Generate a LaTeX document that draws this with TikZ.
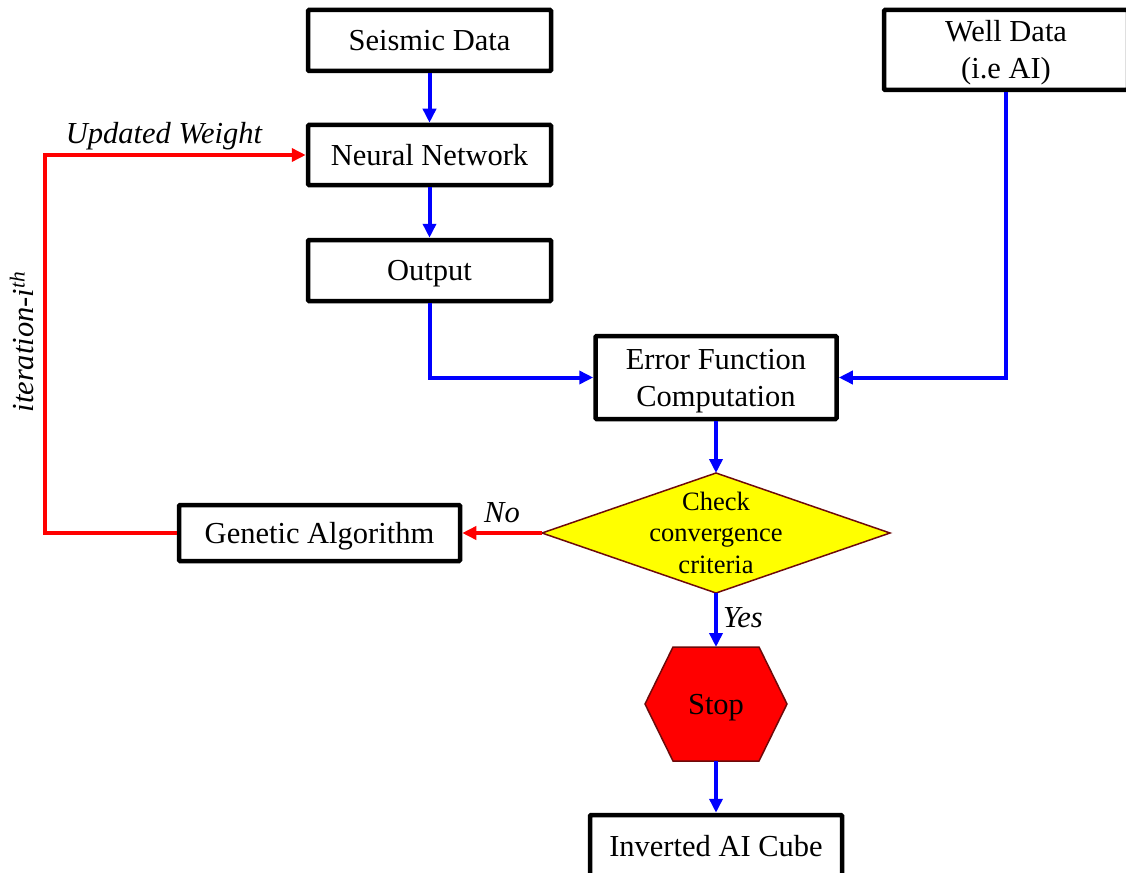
\documentclass[tikz,border=0pt]{standalone}
\usepackage{fontspec}
\setmainfont{Liberation Serif}
\usetikzlibrary{arrows.meta}
\definecolor{bl}{RGB}{0,0,255}
\definecolor{rd}{RGB}{255,0,0}
\definecolor{yl}{RGB}{255,255,0}
\definecolor{mar}{RGB}{110,10,10}
\newcommand\pstrut{\rule[-6.6pt]{0pt}{33.8pt}}
\newcommand\dstrut{\rule[-5.7pt]{0pt}{29.3pt}}
\begin{document}
\begin{tikzpicture}[x=1pt,y=-1pt,
  box/.style={draw=black,line width=4.5pt,rounded corners=1pt,inner sep=0pt,align=center,
    font=\fontsize{30.5}{37}\selectfont},
  ghost/.style={inner sep=0pt,align=center,outer sep=0pt},
  bluearrow/.style={draw=bl,line width=4pt,-{Triangle[length=14pt,width=13pt]}},
  redarrow/.style={draw=rd,line width=4pt,-{Triangle[length=14pt,width=13pt]}},
  lbl/.style={font=\fontsize{30.5}{37}\selectfont\itshape,inner sep=0pt}]
\useasboundingbox (0,0) rectangle (1126,872);
\fill[white] (0,0) rectangle (1126,872);

% boxes
\node[box,minimum width=243pt,minimum height=61pt] (sd) at (429.5,40.5) {\pstrut Seismic Data};
\node[box,minimum width=243pt,minimum height=60pt] (nn) at (429.5,155) {\pstrut Neural Network};
\node[box,minimum width=243pt,minimum height=61pt] (out) at (429.5,270.5) {\pstrut Output};
\node[box,minimum width=244pt,minimum height=80pt] (well) at (1006,50) {\pstrut Well Data\\\pstrut(i.e AI)};
\node[box,minimum width=241pt,minimum height=83pt] (err) at (716,377.5) {\pstrut Error Function\\\pstrut Computation};
\node[box,minimum width=281pt,minimum height=56pt] (ga) at (319.5,533) {\pstrut Genetic Algorithm};
\node[box,minimum width=252pt,minimum height=62pt] (inv) at (716,846) {\pstrut Inverted AI Cube};

% diamond
\fill[yl,draw=mar,line width=1.5pt] (542,533) -- (716,473) -- (890,533) -- (716,593) -- cycle;
\node[ghost,minimum width=348pt,minimum height=120pt,font=\fontsize{26.5}{31.5}\selectfont] (chk) at (716,533) {\dstrut Check\\\dstrut convergence\\\dstrut criteria};

% hexagon
\fill[rd,draw=mar,line width=1.5pt] (645,704) -- (673,647) -- (759,647) -- (787,704) -- (759,761) -- (673,761) -- cycle;
\node[ghost,minimum width=142pt,minimum height=114pt,font=\fontsize{30.5}{37}\selectfont] (stop) at (716,704) {\pstrut Stop};

% connectors
\draw[bluearrow] (sd) -- (nn);
\draw[bluearrow] (nn) -- (out);
\draw[bluearrow] (out.south) |- (err.west);
\draw[bluearrow] (well.south) |- (err.east);
\draw[bluearrow] (err.south) -- (chk.north);
\draw[bluearrow] (chk.south) -- (stop.north);
\draw[bluearrow] (stop.south) -- (inv.north);
\draw[redarrow] (chk.west) -- (ga.east);
\coordinate (lp) at (45,533);
\draw[redarrow,line join=miter] (ga.west) -- (lp) |- (nn.west);

% labels
\node[lbl,anchor=base] (uw) at (164,143) {Updated Weight};
\node[lbl,anchor=base] (no) at (502,522) {No};
\node[lbl,anchor=base] (yes) at (743,627) {Yes};
\node[lbl,rotate=90] (it) at (22,342) {iteration-i\textsuperscript{th}};
\end{tikzpicture}
\end{document}
